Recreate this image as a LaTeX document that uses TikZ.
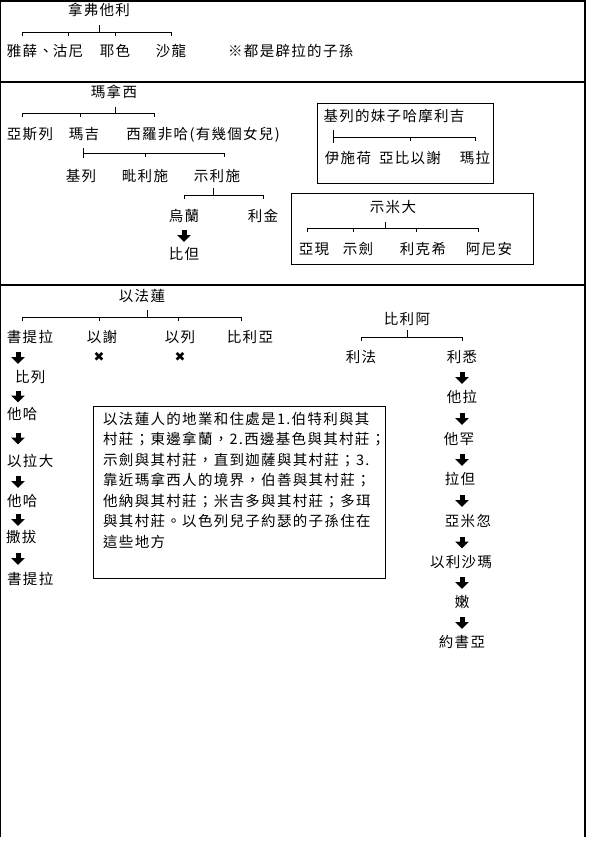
\documentclass[tikz,border=0pt]{standalone}
\usepackage{fontspec}
\newfontfamily\zhfont[LetterSpace=9]{Noto Sans CJK TC}
\newfontfamily\symfont{DejaVu Sans}
\usetikzlibrary{arrows.meta}

\begin{document}
\begin{tikzpicture}[x=1pt, y=-1pt,
    font=\zhfont\fontsize{14.5}{20.5}\selectfont,
    nm/.style={inner sep=1pt, text height=11pt, text depth=2pt},
    br/.style={line width=0.9pt},
    blk/.style={line width=5pt, -{Triangle[width=13.5pt, length=7pt]}},
    box/.style={draw, line width=0.9pt},
    frm/.style={line width=1.3pt},
    kill/.style={font=\symfont\fontsize{13}{13}\selectfont, inner sep=0pt},
  ]
    \useasboundingbox (0,0) rectangle (595,860);
    % outer frame and section rules
    \draw[frm] (0.7,837) -- (0.7,1) -- (585,1) -- (585,837);
    \draw[frm] (0.7,82) -- (585,82);
    \draw[frm] (0.7,285) -- (585,285);

    % Naphtali
    \node[nm] (naf) at (99,11) {拿弗他利};
    \node[nm] (jah) at (22,52) {雅薛};
    \node[nm, anchor=west, inner sep=0pt] (jahc) at (jah.east) {、};
    \node[nm] (gun) at (68,52) {沽尼};
    \node[nm] (jez) at (115,52) {耶色};
    \node[nm] (shl) at (171,52) {沙龍};
    \node[nm, anchor=west] (bil) at (227,52) {※都是辟拉的子孫};
    \coordinate (k1) at (99,32);
    \draw[br] (jah.north |- k1) ++(0,4) -- ++(0,-4) -- (shl.north |- k1) -- ++(0,4);
    \draw[br] (k1) -- ++(0,-7);
    \foreach \c in {gun,jez} \draw[br] (\c.north |- k1) -- ++(0,4);

    % Manasseh
    \node[nm] (man) at (114,93) {瑪拿西};
    \node[nm] (asr) at (30,135) {亞斯列};
    \node[nm] (mak) at (84,135) {瑪吉};
    \node[nm] (zel) at (203,135) {西羅非哈(有幾個女兒)};
    \coordinate (k2) at (115,113);
    \draw[br] ([xshift=-8pt]asr.north |- k2) ++(0,4) -- ++(0,-4) -- ([xshift=-49pt]zel.north |- k2) -- ++(0,4);
    \draw[br] (k2) -- ++(0,-6);
    \draw[br] ([xshift=-4pt]mak.north |- k2) -- ++(0,4);

    \node[nm] (gil) at (81,177) {基列};
    \node[nm] (pel) at (145,177) {毗利施};
    \node[nm] (sre) at (217,177) {示利施};
    \coordinate (k3) at (83,153);
    \draw[br] (k3) ++(0,-5) -- ++(0,10);
    \draw[br] (k3) -- ([xshift=7pt]sre.north |- k3) -- ++(0,4);
    \draw[br] (pel.north |- k3) -- ++(0,4);

    \node[nm] (ula) at (184,217) {烏蘭};
    \node[nm] (rek) at (263,217) {利金};
    \node[nm] (bed) at (184,255) {比但};
    \coordinate (k4) at (213,195);
    \draw[br] (ula.north |- k4) ++(0,4) -- ++(0,-4) -- (rek.north |- k4) -- ++(0,4);
    \draw[br] (k4) -- ++(0,-7);
    \path (ula.south) -- coordinate[midway] (m) (bed.north);
    \draw[blk] ([yshift=6pt]m) -- ([yshift=-6pt]m);

    % Hammoleketh box
    \draw[box] (317,103) rectangle (493,183);
    \node[nm] (ham) at (394,117) {基列的妹子哈摩利吉};
    \node[nm] (ish) at (348,159) {伊施荷};
    \node[nm] (abz) at (410,159) {亞比以謝};
    \node[nm] (mah) at (475,159) {瑪拉};
    \coordinate (k5) at (333,137);
    \draw[br] (k5) ++(0,-7) -- ++(0,13);
    \draw[br] (k5) -- (mah.north |- k5) -- ++(0,4);
    \draw[br] (abz.north |- k5) -- ++(0,4);

    % Shemida box
    \draw[box] (291,193) rectangle (533,264);
    \node[nm] (shm) at (393,208) {示米大};
    \node[nm] (ahi) at (314,250) {亞現};
    \node[nm] (she) at (358,250) {示劍};
    \node[nm] (lik) at (423,250) {利克希};
    \node[nm] (ani) at (489,250) {阿尼安};
    \coordinate (k6) at (385,228);
    \draw[br] ([xshift=-7pt]ahi.north |- k6) ++(0,4) -- ++(0,-4) -- ([xshift=-11pt]ani.north |- k6) -- ++(0,4);
    \draw[br] (k6) -- ++(0,-6);
    \draw[br] ([xshift=-5pt]she.north |- k6) -- ++(0,4);
    \draw[br] ([xshift=-7pt]lik.north |- k6) -- ++(0,4);

    % Ephraim
    \node[nm] (eph) at (142,297) {以法蓮};
    \node[nm] (shu) at (30,338) {書提拉};
    \node[nm] (eze) at (102,338) {以謝};
    \node[nm] (ele) at (180,338) {以列};
    \node[nm] (ber) at (250,338) {比利亞};
    \coordinate (k7) at (147,317);
    \draw[br] ([xshift=-8pt]shu.north |- k7) ++(0,4) -- ++(0,-4) -- ([xshift=-9pt]ber.north |- k7) -- ++(0,4);
    \draw[br] (k7) -- ++(0,-7);
    \draw[br] ([xshift=-3pt]eze.north |- k7) -- ++(0,4);
    \draw[br] ([xshift=-2pt]ele.north |- k7) -- ++(0,4);
    \node[kill] (xez) at (99,357) {✖};
    \node[kill] (xel) at (180,357) {✖};

    \coordinate (colL) at (18,0);
    \node[nm, anchor=west] (bec) at (14,378) {比列};
    \node[nm, anchor=west] (tah) at (6,415) {他哈};
    \node[nm, anchor=west] (era) at (6,462) {以拉大};
    \node[nm, anchor=west] (taa) at (6,502) {他哈};
    \node[nm, anchor=west] (zab) at (5,538) {撒拔};
    \node[nm, anchor=west] (shb) at (6,580) {書提拉};
    \foreach \a/\b in {shu/bec, bec/tah, tah/era, era/taa, taa/zab, zab/shb} {
      \path (\a.south -| colL) -- coordinate[midway] (m) (\b.north -| colL);
      \draw[blk] ([yshift=6pt]m) -- ([yshift=-6pt]m);
    }

    % Beriah
    \node[nm] (bri) at (407,320) {比利阿};
    \node[nm] (rep) at (361,358) {利法};
    \node[nm] (res) at (462,358) {利悉};
    \coordinate (k8) at (407,337);
    \draw[br] (rep.north |- k8) ++(0,4) -- ++(0,-4) -- (res.north |- k8) -- ++(0,4);
    \draw[br] (k8) -- ++(0,-7);

    \coordinate (colR) at (462,0);
    \node[nm] (tel) at (462,398) {他拉};
    \node[nm] (tan) at (459,440) {他罕};
    \node[nm] (lad) at (460,480) {拉但};
    \node[nm] (amh) at (468,522) {亞米忽};
    \node[nm] (elm) at (461,563) {以利沙瑪};
    \node[nm] (nun) at (462,603) {嫩};
    \node[nm] (jos) at (462,643) {約書亞};
    \foreach \a/\b in {res/tel, tel/tan, tan/lad, lad/amh, amh/elm, elm/nun, nun/jos} {
      \path (\a.south -| colR) -- coordinate[midway] (m) (\b.north -| colR);
      \draw[blk] ([yshift=6pt]m) -- ([yshift=-6pt]m);
    }

    % note on the land of Ephraim
    \node[box, anchor=north west, minimum width=292pt, minimum height=172pt, inner sep=0pt] (note) at (93,406) {};
    \node[anchor=north west, align=left, inner sep=0pt] (notetxt) at ([xshift=10pt, yshift=-6pt]note.north west)
      {以法蓮人的地業和住處是1.伯特利與其\\
       村莊；東邊拿蘭，2.西邊基色與其村莊；\\
       示劍與其村莊，直到迦薩與其村莊；3.\\
       靠近瑪拿西人的境界，伯善與其村莊；\\
       他納與其村莊；米吉多與其村莊；多珥\\
       與其村莊。以色列兒子約瑟的子孫住在\\
       這些地方};
\end{tikzpicture}
\end{document}
